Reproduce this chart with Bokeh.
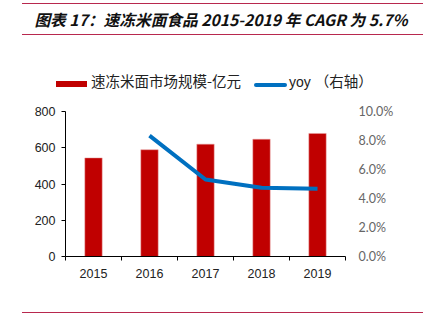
from bokeh.plotting import figure
from bokeh.layouts import column
from bokeh.models import (Range1d, LinearAxis, FixedTicker, NumeralTickFormatter, Div)
from bokeh.embed import file_html
from bokeh.resources import INLINE

years = ["2015", "2016", "2017", "2018", "2019"]
market = [544, 589, 620, 647, 679]
yoy_years = ["2016", "2017", "2018", "2019"]
yoy = [0.0834, 0.0531, 0.0474, 0.0467]
left_ticks = [0, 200, 400, 600, 800]
right_ticks = [0.0, 0.02, 0.04, 0.06, 0.08, 0.10]

title_text = "图表 17：速冻米面食品 2015-2019 年 CAGR 为 5.7%"
bar_name = "速冻米面市场规模-亿元"
line_name = "yoy"
line_note = "（右轴）"

BAR_COLOR = "#C00000"
LINE_COLOR = "#0070C0"
W = 427
RULE = "#B8284E"
CJK = "Noto Sans CJK SC"

# title block between two rules (canvas y 3 .. 35)
title = Div(text=title_text, width=401, height=32, margin=(3, 0, 0, 22),
            styles={"border-top": f"1.5px solid {RULE}",
                    "border-bottom": f"1.5px solid {RULE}",
                    "box-sizing": "border-box",
                    "display": "flex", "align-items": "center",
                    "justify-content": "center",
                    "font-family": CJK, "font-weight": "bold",
                    "font-style": "italic", "font-size": "15.7px",
                    "color": "#111111", "padding-right": "3px",
                    "padding-top": "3px", "white-space": "nowrap"})

# legend (canvas y 71 .. 91)
legend_html = (
    f'<span style="display:inline-block;width:31px;height:6px;background:{BAR_COLOR};'
    f'margin-right:4px"></span>'
    f'<span>{bar_name}</span>'
    f'<span style="display:inline-block;width:33px;height:4px;border-radius:2px;'
    f'background:{LINE_COLOR};margin-left:13px;margin-right:2px"></span>'
    f'<span style="font-family:\'Liberation Sans\';font-size:14px">{line_name}</span>'
    f'<span style="margin-left:4px">{line_note}</span>'
)
legend = Div(text=legend_html, width=370, height=20, margin=(36, 0, 0, 56),
             styles={"display": "flex", "align-items": "center",
                     "font-family": CJK, "font-size": "14.5px",
                     "color": "#222222", "white-space": "nowrap"})

FIG_TOP = 91
FL, FR, FT, FB = 65, 345, 111, 256
FIG_BOTTOM = 305

p = figure(width=W, height=FIG_BOTTOM - FIG_TOP, output_backend="svg",
           toolbar_location=None,
           x_range=Range1d(-0.5, len(years) - 0.5), y_range=Range1d(0, 800),
           min_border_left=FL, min_border_right=W - FR,
           min_border_top=FT - FIG_TOP, min_border_bottom=FIG_BOTTOM - FB,
           x_axis_type=None, y_axis_type=None, margin=(0, 0, 0, 0))
p.outline_line_color = None
p.extra_y_ranges = {"pct": Range1d(0, 0.10)}

xs = list(range(len(years)))
p.vbar(x=xs, top=market, width=0.31, fill_color=BAR_COLOR,
       line_color="#E8A0A0", line_width=0.5)
xl = [years.index(y) for y in yoy_years]
p.line(x=xl, y=yoy, y_range_name="pct", line_color=LINE_COLOR, line_width=4)

# left axis
ya = LinearAxis(ticker=FixedTicker(ticks=left_ticks))
ya.axis_line_color = "black"
ya.major_tick_line_color = "black"
ya.major_tick_in = 0
ya.major_tick_out = 4
ya.minor_tick_line_color = None
ya.major_label_standoff = 6
ya.major_label_text_font = "Liberation Sans"
ya.major_label_text_font_size = "12.5px"
ya.major_label_text_color = "#222222"
p.add_layout(ya, "left")

# right axis
ra = LinearAxis(y_range_name="pct", ticker=FixedTicker(ticks=right_ticks),
                formatter=NumeralTickFormatter(format="0.0%"))
ra.axis_line_color = None
ra.major_tick_line_color = None
ra.minor_tick_line_color = None
ra.major_label_standoff = 7
ra.major_label_text_font = "Lato"
ra.major_label_text_font_size = "12.5px"
ra.major_label_text_color = "#666666"
p.add_layout(ra, "right")

# bottom axis
minor = [x - 0.5 for x in xs] + [xs[-1] + 0.5]
xa = LinearAxis(ticker=FixedTicker(ticks=xs, minor_ticks=minor),
                major_label_overrides={x: y for x, y in zip(xs, years)})
xa.axis_line_color = "black"
xa.major_tick_line_color = None
xa.minor_tick_line_color = "black"
xa.minor_tick_in = 0
xa.minor_tick_out = 4
xa.major_label_standoff = 6
xa.major_label_text_font = "Liberation Sans"
xa.major_label_text_font_size = "12.5px"
xa.major_label_text_color = "#222222"
p.add_layout(xa, "below")

bottom_rule = Div(text="", width=401, height=2, margin=(7, 0, 0, 22),
                  styles={"border-top": f"1.5px solid {RULE}",
                          "box-sizing": "border-box"})

layout = column(title, legend, p, bottom_rule, spacing=0, margin=0)
open("out.html", "w").write(file_html(layout, INLINE))
